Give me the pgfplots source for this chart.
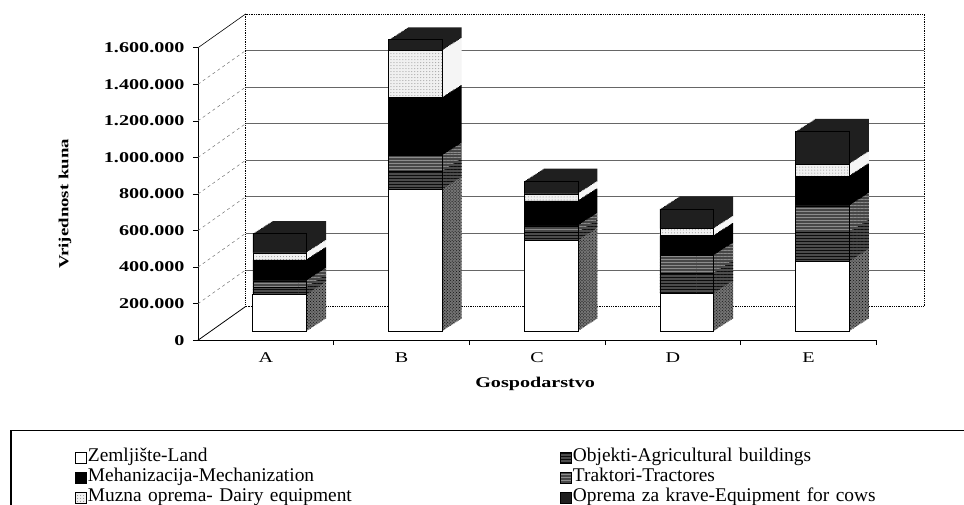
\documentclass[border=0pt]{standalone}
\usepackage{pgfplots}
\pgfplotsset{compat=1.18}
\usepackage{pgfplotstable}
\usetikzlibrary{patterns}
\usepackage{fontspec}
\setmainfont{Liberation Serif}
\newfontfamily\wide[FakeStretch=1.35]{Liberation Serif}
\begin{document}
\pgfplotstableread{
x land objekti traktori meh muzna oprema
0 200000 40000 36000 115000 38000 106000
1 775000 100000 86000 317000 257000 60000
2 495000 45000 37000 136000 38000 71000
3 207000 110000 97000 109000 38000 109000
4 381000 160000 145000 163000 65000 180000
}\datatable
\tikzset{
 sLand/.style={fill=white, draw=black},
 sObj/.style={fill=black!70, draw=black, postaction={pattern=horizontal lines, pattern color=black!95}},
 sTrak/.style={fill=black!72, draw=black, postaction={pattern=horizontal lines, pattern color=black!45}},
 sMeh/.style={fill=black, draw=black},
 sMuz/.style={fill=black!6, draw=black, postaction={pattern=dots, pattern color=black!45}},
 sOpr/.style={fill=black!88, draw=black},
 dLand/.style={fill=black!55, draw=none, postaction={pattern=crosshatch dots, pattern color=black}},
 dObj/.style={fill=black!70, draw=none, postaction={pattern=horizontal lines, pattern color=black!95}},
 dTrak/.style={fill=black!72, draw=none, postaction={pattern=horizontal lines, pattern color=black!45}},
 dMeh/.style={fill=black, draw=none},
 dMuz/.style={fill=black!4, draw=none},
 dOpr/.style={fill=black!88, draw=none},
}
\pgfplotsset{
 base/.style={scale only axis, width=682pt, height=294pt, anchor=south west,
   xmin=-0.5, xmax=4.5, ymin=0, ymax=1600000, scaled y ticks=false},
 barbase/.style={base, hide axis, ybar stacked, bar width=54pt},
}
\begin{tikzpicture}
\useasboundingbox (0pt,0pt) rectangle (964pt,507pt);
% back wall
\begin{axis}[base, at={(242pt,199pt)},
  xtick=\empty, ytick={200000,400000,600000,800000,1000000,1200000,1400000},
  yticklabels={}, ymajorgrids, major grid style={black!60, line width=0.7pt},
  tick style={draw=none}, axis line style={black, densely dotted, line width=0.8pt}]
\addplot[draw=none] coordinates {(0,0)};
\end{axis}
% front frame, ticks, labels, legend
\begin{axis}[base, at={(194pt,165pt)}, clip=false,
  axis lines*=left, axis line style={black, line width=0.8pt},
  xtick={0,1,2,3,4}, xticklabels={A,B,C,D,E},
  xtick style={draw=none},
  extra x ticks={0.5,1.5,2.5,3.5,4.5}, extra x tick labels={},
  extra x tick style={xtick style={draw=black, line width=0.6pt}},
  ytick={0,200000,400000,600000,800000,1000000,1200000,1400000,1600000},
  ytick style={draw=black, line width=0.6pt},
  tick align=outside, major tick length=5pt,
  yticklabel style={font=\wide\bfseries\fontsize{15}{18}\selectfont, xshift=-5pt,
    /pgf/number format/fixed, /pgf/number format/1000 sep={.},
    /pgf/number format/assume math mode=true},
  xticklabel style={font=\wide\fontsize{15}{18}\selectfont, anchor=north, yshift=-4pt},
  ylabel={Vrijednost kuna},
  ylabel style={at={(axis description cs:-0.196,0.466)}, anchor=center,
    font=\wide\bfseries\fontsize{14}{16}\selectfont},
  xlabel={Gospodarstvo},
  xlabel style={at={(axis description cs:0.497,-0.150)}, anchor=center,
    font=\wide\bfseries\fontsize{15}{18}\selectfont},
  legend columns=2,
  legend cell align=left,
  legend style={at={(axis description cs:-0.181,-0.367)}, anchor=north west,
    draw=none, fill=none, inner sep=0pt, font=\fontsize{19.5}{19.5}\selectfont,
    nodes={inner sep=1pt, text height=13pt, text depth=5pt, text width=474pt, align=left}},
  legend image code/.code={\draw[#1, line width=0.6pt] (0pt,-5.5pt) rectangle (11pt,5.5pt);},
]
\addlegendimage{sLand}\addlegendentry{Zemljište-Land}
\addlegendimage{sObj}\addlegendentry{Objekti-Agricultural buildings}
\addlegendimage{sMeh}\addlegendentry{Mehanizacija-Mechanization}
\addlegendimage{sTrak}\addlegendentry{Traktori-Tractores}
\addlegendimage{sMuz}\addlegendentry{Muzna oprema- Dairy equipment}
\addlegendimage{sOpr}\addlegendentry{Oprema za krave-Equipment for cows}
\draw[black, line width=0.8pt] (axis cs:-0.5,0) -- ++(48pt,34pt);
\draw[black, line width=0.6pt] (axis cs:-0.5,1600000) -- ++(48pt,34pt);
\draw[black!55, dashed, line width=0.5pt] (axis cs:-0.5,200000) -- ++(48pt,34pt);
\draw[black!55, dashed, line width=0.5pt] (axis cs:-0.5,400000) -- ++(48pt,34pt);
\draw[black!55, dashed, line width=0.5pt] (axis cs:-0.5,600000) -- ++(48pt,34pt);
\draw[black!55, dashed, line width=0.5pt] (axis cs:-0.5,800000) -- ++(48pt,34pt);
\draw[black!55, dashed, line width=0.5pt] (axis cs:-0.5,1000000) -- ++(48pt,34pt);
\draw[black!55, dashed, line width=0.5pt] (axis cs:-0.5,1200000) -- ++(48pt,34pt);
\draw[black!55, dashed, line width=0.5pt] (axis cs:-0.5,1400000) -- ++(48pt,34pt);
\end{axis}
% depth of the bars (side and top faces)
\foreach \i in {14,13,...,1}{
  \pgfmathsetmacro\sx{208+\i*19.5/14}
  \pgfmathsetmacro\sy{174+\i*12.5/14}
  \begin{axis}[barbase, at={(\sx pt,\sy pt)}]
    \addplot[dLand] table[x=x,y=land]{\datatable};
    \addplot[dObj] table[x=x,y=objekti]{\datatable};
    \addplot[dTrak] table[x=x,y=traktori]{\datatable};
    \addplot[dMeh] table[x=x,y=meh]{\datatable};
    \addplot[dMuz] table[x=x,y=muzna]{\datatable};
    \addplot[dOpr] table[x=x,y=oprema]{\datatable};
  \end{axis}
}
% front faces
\begin{axis}[barbase, at={(208pt,174pt)}]
  \addplot[sLand, line width=0.8pt] table[x=x,y=land]{\datatable};
  \addplot[sObj, line width=0.5pt] table[x=x,y=objekti]{\datatable};
  \addplot[sTrak, line width=0.5pt] table[x=x,y=traktori]{\datatable};
  \addplot[sMeh, line width=0.5pt] table[x=x,y=meh]{\datatable};
  \addplot[sMuz, line width=0.5pt] table[x=x,y=muzna]{\datatable};
  \addplot[sOpr, line width=0.5pt] table[x=x,y=oprema]{\datatable};
\end{axis}
\draw[black, line width=1.3pt] (6pt,-20pt) -- (6pt,74pt) -- (990pt,74pt);
\end{tikzpicture}
\end{document}
